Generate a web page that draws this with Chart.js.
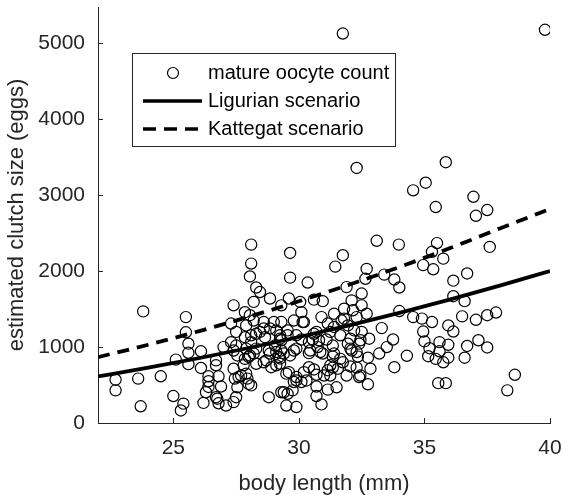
<!DOCTYPE html>
<html>
<head>
<meta charset="utf-8">
<script src="https://cdn.jsdelivr.net/npm/chart.js@4.4.1/dist/chart.umd.min.js"></script>
<style>
  body { margin: 0; background: #fff; }
  canvas { display: block; }
</style>
</head>
<body>
<canvas id="clutchChart" width="562" height="495"></canvas>
<script>
// body length (mm) and mature oocyte count
const lengthMm = [
  22.7, 22.7, 23.6, 23.7, 23.8, 24.5, 25.1, 25.0, 25.4, 25.3,
  25.5, 25.5, 25.6, 25.6, 25.6, 26.1, 26.1, 26.2, 26.4, 26.4, 26.3, 26.4, 26.7, 26.7, 26.7, 26.8, 26.9, 26.8, 27.0, 27.1, 26.75,
  27.4, 27.4, 27.3, 27.5, 27.3, 27.4, 27.4, 27.45, 27.6, 27.55, 27.85, 27.9, 27.85, 28.0, 27.8, 27.9, 28.0, 27.5, 27.55, 27.7, 27.5, 27.9, 27.85, 27.95,
  28.1, 28.1, 28.05, 28.2, 28.3, 28.45, 28.2, 28.3, 28.1, 28.2, 28.3, 28.6, 28.65, 28.8, 28.7, 28.9, 28.8, 28.85, 29.0, 29.1, 29.05, 29.2, 29.1, 29.25, 29.25, 29.3,
  28.05, 28.6, 28.1, 28.6, 29.25, 28.1, 28.45, 28.85, 29.25, 28.85, 28.3, 28.05, 29.1, 29.4,
  29.65, 29.65, 30.35, 29.6, 29.3, 30.6, 30.95, 30.1, 30.15, 29.8, 29.3, 29.55, 29.3, 29.3, 29.55, 29.9, 30.1, 30.6, 30.55, 30.75, 30.95, 29.8, 30.4, 30.4, 30.6,
  29.5, 29.9, 30.3, 30.1, 29.75, 29.4, 29.9, 29.5, 30.7, 30.9, 30.7, 30.05, 30.2, 29.55, 29.9, 29.8, 29.6, 30.2, 30.7, 31.0, 30.4, 30.8, 30.7, 29.9, 29.65, 30.45, 30.85, 31.15, 30.9,
  31.75, 32.3, 31.75, 31.45, 31.9, 32.5, 32.1, 32.5, 31.8, 32.15, 32.7, 32.3, 31.8, 31.4, 32.7, 32.65, 31.4, 31.7, 31.95, 32.2, 32.5, 32.8, 32.4, 31.95, 32.1, 32.35,
  31.1, 31.35, 31.35, 31.75, 32.75, 32.85, 32.75, 32.3, 32.05, 32.4, 31.9, 31.55, 31.35, 31.15, 31.15, 31.5, 31.25, 32.45, 31.65, 31.25, 32.05, 32.3, 32.45, 32.05, 31.65, 31.25, 31.4,
  33.1, 33.98, 33.4, 33.8, 34.0, 34.0, 33.3, 33.75, 33.5, 33.2, 34.3, 33.8,
  34.55, 35.05, 35.85, 36.95, 37.5, 37.05, 35.45, 35.5, 37.6, 35.3, 35.75, 34.95, 35.35, 36.7, 36.15, 36.15, 36.6, 34.55, 34.9, 35.3, 35.95, 36.5, 37.05, 37.5, 37.85,
  36.15, 34.95, 35.0, 35.2, 35.6, 35.95, 35.6, 35.15, 35.45, 35.75, 35.95, 36.7, 36.6, 37.15, 37.5, 35.55, 35.85, 38.6, 38.3, 39.8
];
const oocyteCount = [
  570, 430, 585, 220, 1470, 615, 835, 355, 255, 165,
  1395, 1195, 1045, 925, 775, 945, 725, 265, 550, 475, 405, 615, 825, 760, 340, 615, 480, 260, 1000, 230, 320,
  275, 1550, 1310, 1200, 1065, 955, 715, 585, 605, 470, 1460, 1285, 1130, 870, 760, 650, 515, 1020, 890, 625, 340, 980, 845, 585,
  2350, 2100, 1930, 1595, 1785, 1725, 1350, 1175, 1065, 915, 780, 1245, 1130, 955, 825, 735, 340, 1640, 1330, 1220, 1020, 870, 760, 1110, 780, 405,
  1420, 1330, 495, 800, 850, 1155, 1200, 1245, 1155, 915, 980, 890, 935, 915,
  2240, 1915, 1850, 1640, 1550, 1625, 1605, 1460, 1330, 1350, 1330, 1220, 1090, 955, 1155, 1155, 1100, 1175, 1100, 1000, 915, 955, 920, 735, 705,
  650, 605, 560, 540, 430, 405, 210, 230, 480, 245, 355, 1595, 1330, 385, 560, 540, 670, 670, 635, 625, 1065, 1090, 1200, 980, 890, 955, 935, 1310, 1395,
  5130, 3360, 2210, 2060, 1790, 1705, 1615, 1550, 1505, 1485, 1440, 1395, 1375, 1440, 2030, 1900, 1265, 1350, 1285, 1220, 1200, 1110, 1045, 1045, 955, 875,
  1100, 1020, 875, 800, 860, 715, 510, 730, 745, 605, 625, 715, 730, 695, 440, 470, 625, 625, 845, 760, 980, 935, 1090, 1110, 1155, 1200, 915,
  2400, 2350, 1955, 1890, 1785, 1475, 1250, 1100, 1000, 915, 885, 735,
  3065, 3165, 3435, 2980, 2805, 2730, 2845, 2370, 2320, 2255, 2165, 2080, 2025, 1970, 1875, 1670, 1605, 1395, 1375, 1330, 1285, 1405, 1360, 1420, 1455,
  1205, 1205, 1075, 985, 1065, 1030, 945, 880, 845, 800, 860, 1015, 860, 1090, 995, 525, 525, 635, 430, 5180
];

// scenario curves, read at every 2 mm
const curveLength = [22, 24, 26, 28, 30, 32, 34, 36, 38, 40];
const ligurian = [613, 728, 853, 988, 1133, 1287, 1451, 1625, 1809, 2003];
const kattegat = [868, 1031, 1208, 1399, 1604, 1822, 2054, 2301, 2562, 2820];

const xTicks = [25, 30, 35, 40];
const yTicks = [0, 1000, 2000, 3000, 4000, 5000];

const axisColor = '#262626';
const fontFamily = '"Liberation Sans", Arial, Helvetica, sans-serif';

function toPoints(xs, ys) {
  return xs.map((x, i) => ({ x: x, y: ys[i] }));
}

// MATLAB style ticks pointing into the axes
const innerTicks = {
  id: 'innerTicks',
  afterDatasetsDraw(chart) {
    const { ctx, chartArea, scales } = chart;
    ctx.save();
    ctx.strokeStyle = axisColor;
    ctx.lineWidth = 1;
    ctx.beginPath();
    scales.x.ticks.forEach(t => {
      const px = Math.round(scales.x.getPixelForValue(t.value)) + 0.5;
      ctx.moveTo(px, chartArea.bottom);
      ctx.lineTo(px, chartArea.bottom - 5);
    });
    scales.y.ticks.forEach(t => {
      const py = Math.round(scales.y.getPixelForValue(t.value)) + 0.5;
      ctx.moveTo(chartArea.left, py);
      ctx.lineTo(chartArea.left + 5, py);
    });
    ctx.stroke();
    ctx.restore();
  }
};

// boxed legend inside the axes, upper left
const legendBox = {
  id: 'legendBox',
  afterDatasetsDraw(chart) {
    const { ctx, chartArea } = chart;
    const x0 = chartArea.left + 34;
    const y0 = chartArea.top + 46;
    const w = 263, h = 93;
    ctx.save();
    ctx.fillStyle = '#fff';
    ctx.fillRect(x0, y0, w, h);
    ctx.strokeStyle = axisColor;
    ctx.lineWidth = 1;
    ctx.strokeRect(x0 + 0.5, y0 + 0.5, w, h);

    const rows = [y0 + 20, y0 + 48, y0 + 76];
    const ds = chart.data.datasets;
    // circle
    ctx.strokeStyle = '#000';
    ctx.lineWidth = 1.2;
    ctx.beginPath();
    ctx.arc(x0 + 41, rows[0], 5.5, 0, Math.PI * 2);
    ctx.stroke();
    // solid
    ctx.lineWidth = 3.5;
    ctx.beginPath();
    ctx.moveTo(x0 + 11, rows[1]);
    ctx.lineTo(x0 + 70, rows[1]);
    ctx.stroke();
    // dashed
    ctx.setLineDash([13, 8]);
    ctx.beginPath();
    ctx.moveTo(x0 + 11, rows[2]);
    ctx.lineTo(x0 + 70, rows[2]);
    ctx.stroke();
    ctx.setLineDash([]);

    ctx.fillStyle = '#000';
    ctx.font = '20px ' + fontFamily;
    ctx.textBaseline = 'middle';
    ctx.textAlign = 'left';
    ctx.fillText(ds[2].label, x0 + 76, rows[0]);
    ctx.fillText(ds[0].label, x0 + 76, rows[1]);
    ctx.fillText(ds[1].label, x0 + 76, rows[2]);
    ctx.restore();
  }
};

const ctx = document.getElementById('clutchChart').getContext('2d');
new Chart(ctx, {
  type: 'scatter',
  data: {
    datasets: [
      {
        label: 'Ligurian scenario',
        type: 'line',
        data: toPoints(curveLength, ligurian),
        borderColor: '#000',
        borderWidth: 3.8,
        pointRadius: 0,
        fill: false,
        cubicInterpolationMode: 'monotone',
        order: 1
      },
      {
        label: 'Kattegat scenario',
        type: 'line',
        data: toPoints(curveLength, kattegat),
        borderColor: '#000',
        borderWidth: 3.8,
        borderDash: [12, 8],
        pointRadius: 0,
        fill: false,
        cubicInterpolationMode: 'monotone',
        order: 1
      },
      {
        label: 'mature oocyte count',
        data: toPoints(lengthMm, oocyteCount),
        borderColor: '#000',
        backgroundColor: 'rgba(0,0,0,0)',
        borderWidth: 1.2,
        pointRadius: 5.6,
        order: 2
      }
    ]
  },
  options: {
    responsive: false,
    devicePixelRatio: 1,
    animation: false,
    layout: { padding: { top: 7, right: 12, left: 0, bottom: 0 } },
    plugins: {
      legend: { display: false },
      tooltip: { enabled: false }
    },
    scales: {
      x: {
        type: 'linear',
        min: 22,
        max: 40,
        afterBuildTicks: s => { s.ticks = xTicks.map(v => ({ value: v })); },
        afterFit: s => { s.height = 72; s.paddingLeft = 0; s.paddingRight = 0; },
        grid: { display: false, drawTicks: false },
        border: { color: axisColor, width: 1 },
        ticks: {
          color: axisColor,
          padding: 13,
          maxRotation: 0,
          font: { family: fontFamily, size: 21 },
          callback: v => String(v)
        },
        title: {
          display: true,
          text: 'body length (mm)',
          color: axisColor,
          font: { family: fontFamily, size: 22 },
          padding: { top: 0, bottom: -2 }
        }
      },
      y: {
        type: 'linear',
        min: 0,
        max: 5480,
        afterBuildTicks: s => { s.ticks = yTicks.map(v => ({ value: v })); },
        afterFit: s => { s.width = 98; s.paddingTop = 0; s.paddingBottom = 0; },
        grid: { display: false, drawTicks: false },
        border: { color: axisColor, width: 1 },
        ticks: {
          color: axisColor,
          padding: 13,
          font: { family: fontFamily, size: 21 },
          callback: v => String(v)
        },
        title: {
          display: true,
          text: 'estimated clutch size (eggs)',
          color: axisColor,
          font: { family: fontFamily, size: 22 },
          padding: { top: 4, bottom: 0 }
        }
      }
    }
  },
  plugins: [innerTicks, legendBox]
});
</script>
</body>
</html>
